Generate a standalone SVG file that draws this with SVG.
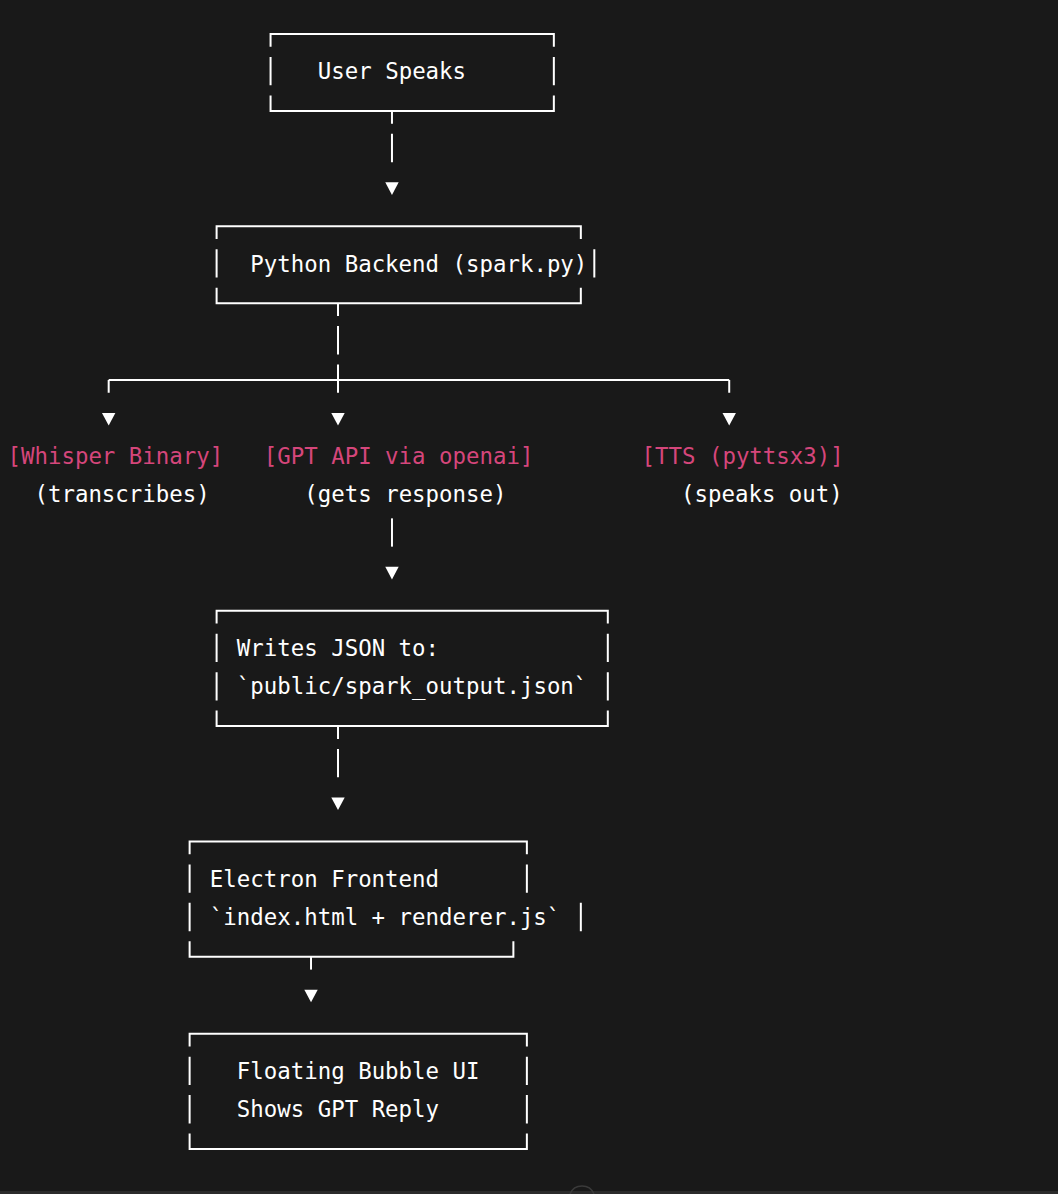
<svg xmlns="http://www.w3.org/2000/svg" width="1058" height="1194" viewBox="0 0 1058 1194">
<style>
  .bx { fill: none; stroke: #ffffff; stroke-width: 2; }
  .ln { fill: none; stroke: #ffffff; stroke-width: 2; }
  .t { font-family: "DejaVu Sans Mono", "Liberation Mono", monospace; font-size: 22.4px; fill: #ffffff; white-space: pre; }
  .pk { fill: #d5467b; }
</style>
<defs>
  <polygon id="tri" points="-6.7,-5.6 6.7,-5.6 0,7.1" fill="#ffffff"/>
</defs>
<rect x="0" y="0" width="1058" height="1194" fill="#191919"/>

<g id="node-user">
  <path class="bx" d="M270.56,46.8 V34 H553.85 V46.8 M270.56,56.95 V85.25 M553.85,56.95 V85.25 M270.56,95.4 V110.9 H553.85 V95.4"/>
  <text class="t" x="317.77" y="79.25">User Speaks</text>
</g>

<g id="node-python">
  <path class="bx" d="M216.6,239.05 V226.25 H580.83 V239.05 M216.6,249.2 V277.5 M594.32,249.2 V277.5 M216.6,287.65 V303.15 H580.83 V287.65"/>
  <text class="t" x="250.32" y="271.5">Python Backend (spark.py)</text>
</g>

<g id="node-whisper">
  <text class="t pk" x="7.5" y="463.75">[Whisper Binary]</text>
  <text class="t" x="34.48" y="502.2">(transcribes)</text>
</g>

<g id="node-gpt">
  <text class="t pk" x="263.81" y="463.75">[GPT API via openai]</text>
  <text class="t" x="304.28" y="502.2">(gets response)</text>
</g>

<g id="node-tts">
  <text class="t pk" x="641.53" y="463.75">[TTS (pyttsx3)]</text>
  <text class="t" x="681.0" y="502.2">(speaks out)</text>
</g>

<g id="node-json">
  <path class="bx" d="M216.6,623.55 V610.75 H607.81 V623.55 M216.6,633.7 V662 M607.81,633.7 V662 M216.6,672.15 V700.45 M607.81,672.15 V700.45 M216.6,710.6 V726.1 H607.81 V710.6"/>
  <text class="t" x="236.83" y="656">Writes JSON to:</text>
  <text class="t" x="236.83" y="694.45">`public/spark_output.json`</text>
</g>

<g id="node-electron">
  <path class="bx" d="M189.62,854.25 V841.45 H526.87 V854.25 M189.62,864.4 V892.7 M526.87,864.4 V892.7 M189.62,902.85 V931.15 M580.83,902.85 V931.15 M189.62,941.3 V956.8 H513.38 V941.3"/>
  <text class="t" x="209.85" y="886.7">Electron Frontend</text>
  <text class="t" x="209.85" y="925.15">`index.html + renderer.js`</text>
</g>

<g id="node-bubble">
  <path class="bx" d="M189.62,1046.5 V1033.7 H526.87 V1046.5 M189.62,1056.65 V1084.95 M526.87,1056.65 V1084.95 M189.62,1095.1 V1123.4 M526.87,1095.1 V1123.4 M189.62,1133.55 V1149.05 H526.87 V1133.55"/>
  <text class="t" x="236.83" y="1078.95">Floating Bubble UI</text>
  <text class="t" x="236.83" y="1117.4">Shows GPT Reply</text>
</g>

<g id="connectors">
  <!-- User -> Python -->
  <path class="ln" d="M391.97,110.9 V123.7 M391.97,133.85 V162.15"/>
  <use href="#tri" x="391.97" y="187.8"/>
  <!-- Python -> branches -->
  <path class="ln" d="M338.01,303.15 V315.95 M338.01,326.1 V354.4 M108.68,380.05 H729.22 M338.01,364.55 V392.85 M108.68,380.05 V392.85 M729.22,380.05 V392.85"/>
  <use href="#tri" x="108.68" y="418.5"/>
  <use href="#tri" x="338.01" y="418.5"/>
  <use href="#tri" x="729.22" y="418.5"/>
  <!-- GPT -> JSON -->
  <path class="ln" d="M391.97,518.35 V546.65"/>
  <use href="#tri" x="391.97" y="572.3"/>
  <!-- JSON -> Electron -->
  <path class="ln" d="M338.01,726.1 V738.9 M338.01,749.05 V777.35"/>
  <use href="#tri" x="338.01" y="803"/>
  <!-- Electron -> Bubble -->
  <path class="ln" d="M311.03,956.8 V969.6"/>
  <use href="#tri" x="311.03" y="995.25"/>
</g>

<rect x="0" y="1191" width="1058" height="3" fill="#2b2b2b"/>
<path d="M570,1194 A13,13 0 0 1 594,1194" fill="none" stroke="#3a3a3a" stroke-width="1.5"/>
</svg>
